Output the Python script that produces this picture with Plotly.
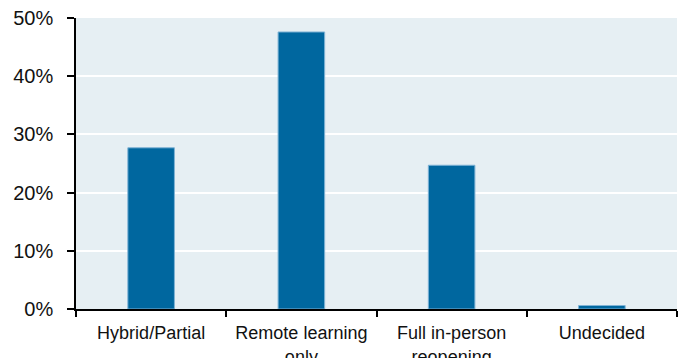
import plotly.graph_objects as go

# Survey shares by reopening plan (percent)
categories = ["Hybrid/Partial", "Remote learning<br>only", "Full in-person<br>reopening", "Undecided"]
shares = [27.7, 47.6, 24.7, 0.6]
y_ticks = [0, 10, 20, 30, 40, 50]
y_tick_labels = ["0%", "10%", "20%", "30%", "40%", "50%"]

fig = go.Figure(
    go.Bar(
        x=categories,
        y=shares,
        marker=dict(color="#00679f", line=dict(color="#7fb3d5", width=1)),
        width=0.31,
    )
)

fig.update_layout(
    width=686,
    height=358,
    margin=dict(l=76, r=9, t=18, b=49),
    paper_bgcolor="white",
    plot_bgcolor="#e6eff3",
    font=dict(family="Liberation Sans, Arial, sans-serif", color="#111111"),
    showlegend=False,
)

fig.update_yaxes(
    range=[0, 50],
    tickvals=y_ticks,
    ticktext=y_tick_labels,
    ticks="outside",
    ticklen=7,
    tickwidth=1.5,
    tickcolor="black",
    showline=True,
    linecolor="black",
    linewidth=1.5,
    showgrid=True,
    gridcolor="white",
    gridwidth=2,
    zeroline=False,
    tickfont=dict(size=20),
    ticklabelstandoff=10,
    automargin=False,
)

fig.update_xaxes(
    tickson="boundaries",
    ticks="outside",
    ticklen=6,
    tickwidth=1.5,
    tickcolor="black",
    showline=True,
    linecolor="black",
    linewidth=1.5,
    showgrid=False,
    tickfont=dict(size=18),
    ticklabelstandoff=7,
    automargin=False,
)

fig.write_html("out.html")
